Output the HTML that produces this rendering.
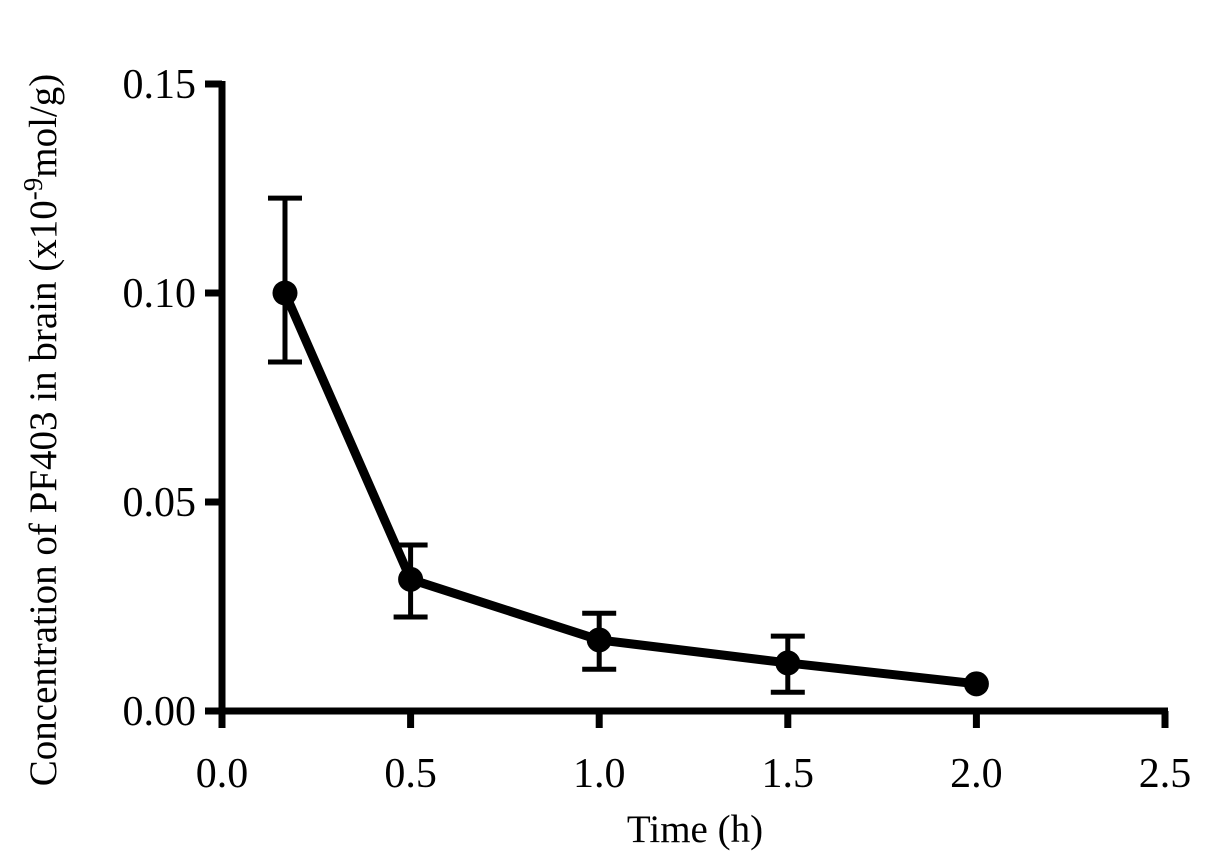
<!DOCTYPE html>
<html><head><meta charset="utf-8"><style>
html,body{margin:0;padding:0;background:#fff;}
svg{display:block;font-family:"Liberation Serif",serif;}
</style></head><body>
<svg id="chart" width="1205" height="865" viewBox="0 0 1205 865"></svg>
<script>
const times=[0.167,0.5,1.0,1.5,2.0];
const means=[0.100,0.0315,0.017,0.0115,0.0065];
const errUp=[0.0227,0.0082,0.0064,0.0064,0];
const errDown=[0.0165,0.009,0.007,0.007,0];
const xTicks=[0,0.5,1.0,1.5,2.0,2.5];
const xTickLabels=["0.0","0.5","1.0","1.5","2.0","2.5"];
const yTicks=[0,0.05,0.10,0.15];
const yTickLabels=["0.00","0.05","0.10","0.15"];

const svg=document.getElementById('chart');
const NS='http://www.w3.org/2000/svg';
const X0=222,X1=1165,Y0=711,Y1=84;
const xs=v=>X0+(v/2.5)*(X1-X0);
const ys=v=>Y0-(v/0.15)*(Y0-Y1);
function mk(tag,attrs,parent){const e=document.createElementNS(NS,tag);for(const k in attrs)e.setAttribute(k,attrs[k]);(parent||svg).appendChild(e);return e;}

const ax=mk('g',{});


const ya=mk('line',{x1:X0,y1:Y1-3,x2:X0,y2:Y0+3,stroke:'#000','stroke-width':7},ax);


const xa=mk('line',{x1:X0-3,y1:Y0,x2:X1+3,y2:Y0,stroke:'#000','stroke-width':7},ax);



xTicks.forEach((t,i)=>{
  const tk=mk('line',{x1:xs(t),y1:Y0,x2:xs(t),y2:Y0+17,stroke:'#000','stroke-width':7},ax);
  
  
  const tx=mk('text',{x:xs(t),y:787,'text-anchor':'middle','font-size':42},ax);
  tx.textContent=xTickLabels[i];
  
  
});
yTicks.forEach((t,i)=>{
  const tk=mk('line',{x1:X0-17,y1:ys(t),x2:X0,y2:ys(t),stroke:'#000','stroke-width':7},ax);
  
  
  const tx=mk('text',{x:196,y:ys(t)+14,'text-anchor':'end','font-size':42},ax);
  tx.textContent=yTickLabels[i];
  
  
});

const xt=mk('text',{x:695,y:842,'text-anchor':'middle','font-size':39});
xt.textContent='Time (h)';


const yt=mk('text',{x:0,y:0,'text-anchor':'middle','font-size':39,transform:'translate(56,430) rotate(-90)'});
yt.innerHTML='Concentration of PF403 in brain (x10<tspan dy="-14" font-size="27">-9</tspan><tspan dy="14">mol/g)</tspan>';



const line=mk('polyline',{points:times.map((t,i)=>xs(t)+','+ys(means[i])).join(' '),fill:'none',stroke:'#000','stroke-width':9,'stroke-linejoin':'round'});



times.forEach((t,i)=>{
  const cx=xs(t);
  if(errUp[i]>0||errDown[i]>0){
    const g=mk('g',{stroke:'#000','stroke-width':5});
    
    
    const top=ys(means[i]+errUp[i]),bot=ys(means[i]-errDown[i]);
    mk('line',{x1:cx,y1:top,x2:cx,y2:bot},g);
    mk('line',{x1:cx-17,y1:top,x2:cx+17,y2:top},g);
    mk('line',{x1:cx-17,y1:bot,x2:cx+17,y2:bot},g);
  }
  const c=mk('circle',{cx:cx,cy:ys(means[i]),r:12.5,fill:'#000'});
  
  
});
</script>
</body></html>
